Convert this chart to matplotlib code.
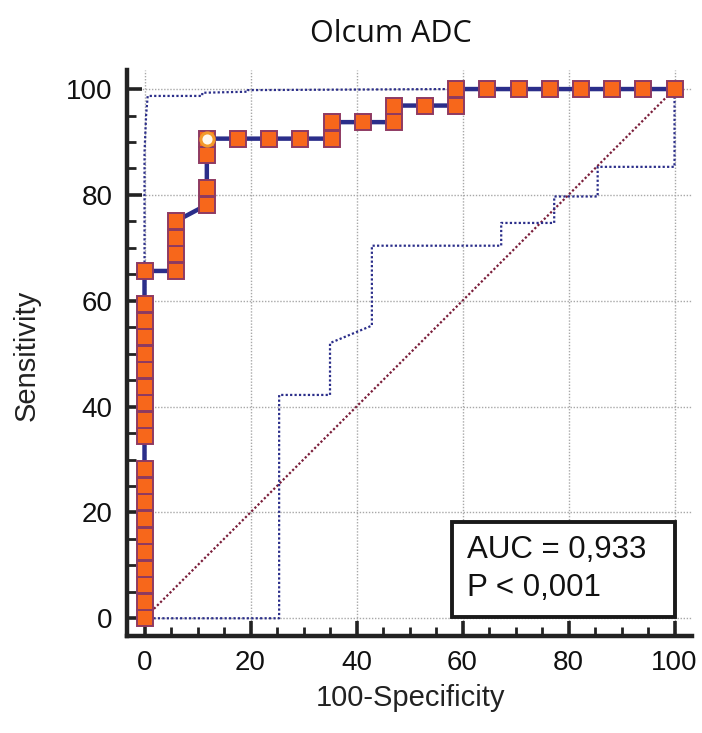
import matplotlib
matplotlib.use("Agg")
import matplotlib.pyplot as plt
from matplotlib.patches import Rectangle

# ---------------- data (percent) ----------------
roc_fpr = [0, 0, 5.88, 5.88, 11.76, 11.76, 35.29, 35.29, 47.06, 47.06, 58.82, 58.82, 100]
roc_tpr = [0, 65.63, 65.63, 75.0, 78.13, 90.63, 90.63, 93.75, 93.75, 96.88, 96.88, 100, 100]

marker_fpr = ([0] * 20 + [5.88] * 4 + [11.76] * 3 + [17.65, 23.53, 29.41, 35.29]
              + [35.29, 41.18, 47.06] + [47.06, 52.94, 58.82]
              + [58.82, 64.71, 70.59, 76.47, 82.35, 88.24, 94.12, 100])
marker_tpr = ([0, 3.13, 6.25, 9.38, 12.5, 15.63, 18.75, 21.88, 25.0, 28.13,
               34.38, 37.5, 40.63, 43.75, 46.88, 50.0, 53.13, 56.25, 59.38, 65.63]
              + [65.63, 68.75, 71.88, 75.0] + [78.13, 81.25, 87.5] + [90.63] * 4
              + [93.75] * 3 + [96.88] * 3 + [100] * 8)

optimal_fpr = [11.76]
optimal_tpr = [90.63]

ci_upper_fpr = [0, 0, 0.3, 0.6, 10.9, 10.9, 19.5, 19.5, 58.8, 100]
ci_upper_tpr = [0, 88, 95, 98.7, 98.7, 99.3, 99.5, 99.8, 100, 100]

ci_lower_fpr = [0, 25.4, 25.4, 35.0, 35.0, 42.9, 42.9, 67.3, 67.3, 77.3, 77.3, 85.5, 85.5, 100, 100]
ci_lower_tpr = [0, 0, 42.2, 42.2, 52.0, 55.3, 70.4, 70.4, 74.7, 74.7, 79.7, 79.7, 85.3, 85.3, 100]

diag = [0, 100]
ticks = [0, 20, 40, 60, 80, 100]
minor_ticks = [5, 10, 15, 25, 30, 35, 45, 50, 55, 65, 70, 75, 85, 90, 95]

title = "Olcum ADC"
xlabel = "100-Specificity"
ylabel = "Sensitivity"
auc_line = "AUC = 0,933"
p_line = "P < 0,001"

# ---------------- plot ----------------
plt.rcParams['font.family'] = ['Liberation Sans', 'DejaVu Sans']
fig = plt.figure(figsize=(7.02, 7.33), dpi=100)
ax = fig.add_axes([126.7 / 702, 1 - 636 / 733, (692 - 126.7) / 702, (636 - 70) / 733])
ax.set_xlim(-3.36, 103.3)
ax.set_ylim(-3.35, 103.6)

navy = '#2B2E8A'
ax.grid(True, color='#A8A8A8', linestyle=(0, (1, 1.2)), linewidth=1.0)
ax.set_axisbelow(True)

ax.plot(diag, diag, color='#7A1E3A', linestyle=(0, (1, 1)), linewidth=1.6, zorder=2)
ax.plot(ci_upper_fpr, ci_upper_tpr, color=navy, linestyle=(0, (1, 1)), linewidth=1.6, zorder=2)
ax.plot(ci_lower_fpr, ci_lower_tpr, color=navy, linestyle=(0, (1, 1)), linewidth=1.6, zorder=2)

ax.plot(roc_fpr, roc_tpr, color=navy, linewidth=3.2, zorder=3, clip_on=False)
ax.plot(marker_fpr, marker_tpr, linestyle='none', marker='s', markersize=11,
        markerfacecolor='#F7671B', markeredgecolor='#8E3A62', markeredgewidth=1.4,
        zorder=4, clip_on=False)
ax.plot(optimal_fpr, optimal_tpr, linestyle='none', marker='s', markersize=11,
        markerfacecolor='#F7671B', markeredgecolor='#8E3A62', markeredgewidth=1.4, zorder=4)
ax.plot(optimal_fpr, optimal_tpr, linestyle='none', marker='o', markersize=9.5,
        markerfacecolor='#FFF8EC', markeredgecolor='#F39A2A', markeredgewidth=2.2, zorder=5)

ax.add_patch(Rectangle((58.1, 0.2), 41.9, 17.9, facecolor='white', edgecolor='#1A1A1A',
                       linewidth=2.8, zorder=6))
ax.text(60.8, 11.4, auc_line, fontsize=22.5, va='baseline', ha='left',
        color='#111111', zorder=7)
ax.text(60.8, 4.2, p_line, fontsize=22.5, va='baseline', ha='left',
        color='#111111', zorder=7)

for s in ['top', 'right']:
    ax.spines[s].set_visible(False)
for s in ['left', 'bottom']:
    ax.spines[s].set_linewidth(3.2)
    ax.spines[s].set_color('#222222')

ax.set_xticks(ticks)
ax.set_yticks(ticks)
ax.set_xticks(minor_ticks, minor=True)
ax.set_yticks(minor_ticks, minor=True)
ax.tick_params(which='major', direction='in', length=11, width=2.6, color='#222222',
               labelsize=20, pad=10, labelcolor='#111111')
ax.tick_params(which='minor', direction='in', length=6.5, width=2.0, color='#222222')

fig.text(27 / 702, 1 - 355 / 733, ylabel, rotation=90, ha='center', va='center',
         fontsize=21, color='#222222')
fig.text(410 / 702, 1 - 698 / 733, xlabel, ha='center', va='center', fontsize=21,
         color='#222222')
fig.text(391 / 702, 1 - 34 / 733, title, ha='center', va='center', fontsize=22,
         family=['Open Sans', 'DejaVu Sans'], color='#111111')

fig.savefig('out.png', dpi=100)
